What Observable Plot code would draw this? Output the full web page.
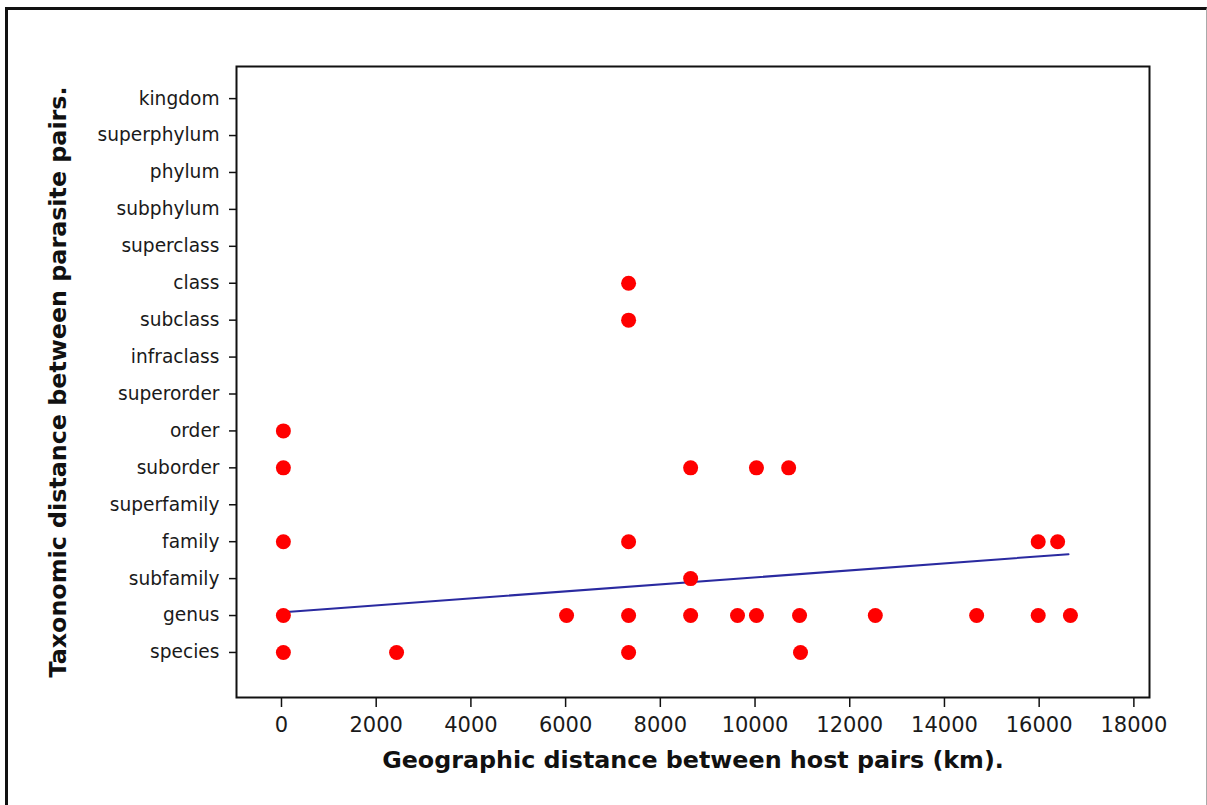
<!DOCTYPE html>
<html>
<head>
<meta charset="utf-8">
<script src="https://cdn.jsdelivr.net/npm/d3@7"></script>
<script src="https://cdn.jsdelivr.net/npm/@observablehq/plot@0.6"></script>
<style>
  html, body { margin: 0; padding: 0; background: #fff; }
  #wrap { position: relative; width: 1207px; height: 805px; overflow: hidden; }
  #border { position: absolute; left: 5px; top: 7px; width: 1202px; height: 900px;
            border-left: 3px solid #111; border-top: 3px solid #111; border-right: 1px solid #aaa;
            box-sizing: border-box; pointer-events: none; }
  svg { position: absolute; left: 0; top: 0; }
</style>
</head>
<body>
<div id="wrap"><div id="border"></div></div>
<script>
// Taxonomic levels, from the bottom (index 0) to the top of the y axis
const levels = ["species","genus","subfamily","family","superfamily","suborder","order",
  "superorder","infraclass","subclass","class","superclass","subphylum","phylum","superphylum","kingdom"];

// Points: geographic distance (km) and taxonomic level
const pointDistance = [
  40, 2430, 7330, 10960,
  40, 6020, 7330, 8640, 9630, 10030, 10940, 12540, 14680, 15980, 16660,
  8640,
  40, 7330, 15980, 16390,
  40, 8640, 10030, 10710,
  40,
  7330,
  7330
];
const pointLevel = [
  "species","species","species","species",
  "genus","genus","genus","genus","genus","genus","genus","genus","genus","genus","genus",
  "subfamily",
  "family","family","family","family",
  "suborder","suborder","suborder","suborder",
  "order",
  "subclass",
  "class"
];

// Fitted trend line end points
const trendDistance = [40, 16620];
const trendLevel = [1.09, 2.66];

const xTicks = [0,2000,4000,6000,8000,10000,12000,14000,16000,18000];

const points = pointDistance.map((d, i) => ({x: d, y: levels.indexOf(pointLevel[i])}));
const trend = trendDistance.map((d, i) => ({x: d, y: trendLevel[i]}));

const plot = Plot.plot({
  width: 1207,
  height: 805,
  marginLeft: 236,
  marginRight: 58,
  marginTop: 66,
  marginBottom: 108,
  style: {fontFamily: "DejaVu Sans", background: "transparent", color: "#1a1a1a"},
  x: {domain: [-950, 18330]},
  y: {domain: [-1.22, 15.87]},
  marks: [
    Plot.axisX({ticks: xTicks, tickFormat: d => String(d), tickSize: 10, tickPadding: 10,
      fontSize: 21, label: null, stroke: "#111", strokeWidth: 1.5}),
    Plot.axisY({ticks: d3.range(levels.length), tickFormat: i => levels[i], tickSize: 7,
      tickPadding: 10, fontSize: 18.6, label: null, stroke: "#111", strokeWidth: 1.5}),
    Plot.frame({stroke: "#111", strokeWidth: 2}),
    Plot.line(trend, {x: "x", y: "y", stroke: "#2a2aa0", strokeWidth: 2}),
    Plot.dot(points, {x: "x", y: "y", r: 7.5, fill: "#ff0000", stroke: "none"}),
    Plot.text(["Geographic distance between host pairs (km)."], {frameAnchor: "bottom",
      dy: 70, fontSize: 23.8, fontWeight: "bold", fill: "#111", textAnchor: "middle"}),
    Plot.text(["Taxonomic distance between parasite pairs."], {frameAnchor: "left",
      dx: -178, rotate: -90, fontSize: 23.8, fontWeight: "bold", fill: "#111", textAnchor: "middle"})
  ]
});
document.getElementById("wrap").prepend(plot);
</script>
</body>
</html>
